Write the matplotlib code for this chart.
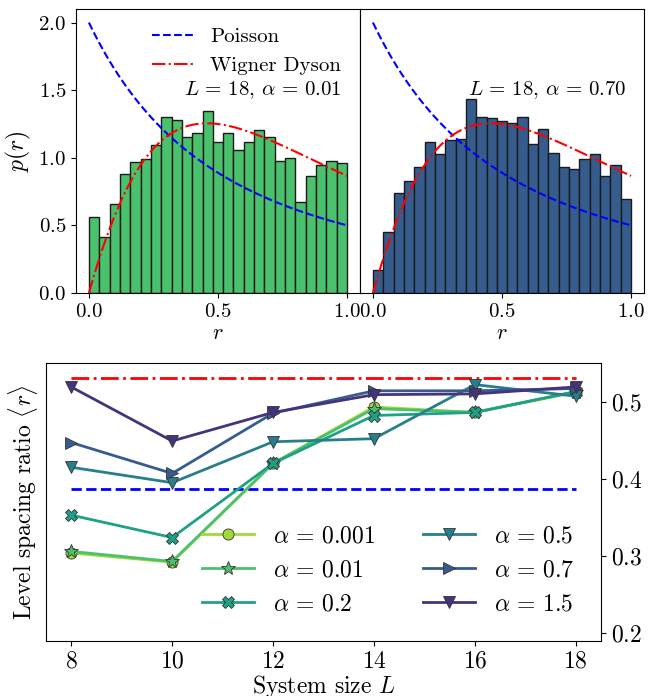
import numpy as np
import matplotlib
matplotlib.use('Agg')
import matplotlib.pyplot as plt

plt.rcParams['font.family'] = 'serif'
plt.rcParams['font.serif'] = ['cmr10']
plt.rcParams['mathtext.fontset'] = 'cm'
plt.rcParams['axes.formatter.use_mathtext'] = True
plt.rcParams['axes.unicode_minus'] = False

# r-distribution histograms at L = 18 (25 bins on [0, 1])
bin_edges = np.linspace(0, 1, 26)
p_r_alpha_001 = [0.563, 0.415, 0.659, 0.879, 0.968, 0.990, 1.096, 1.301, 1.281, 1.156, 1.185, 1.343, 1.114,
                 1.185, 1.057, 1.119, 1.205, 1.156, 0.973, 0.998, 0.674, 0.867, 0.943, 0.973, 0.960]
p_r_alpha_070 = [0.168, 0.449, 0.741, 0.827, 0.931, 1.114, 1.027, 1.133, 1.141, 1.437, 1.304, 1.291, 1.272,
                 1.254, 1.304, 1.104, 1.212, 1.037, 0.931, 0.914, 0.988, 1.027, 0.862, 0.943, 0.694]

# mean level spacing ratio vs system size
system_sizes = [8, 10, 12, 14, 16, 18]
alphas = [0.001, 0.01, 0.2, 0.5, 0.7, 1.5]
r_mean_0001 = [0.304, 0.292, 0.420, 0.493, 0.486, 0.512]
r_mean_001 = [0.306, 0.293, 0.420, 0.491, 0.486, 0.513]
r_mean_02 = [0.353, 0.324, 0.420, 0.482, 0.486, 0.513]
r_mean_05 = [0.415, 0.395, 0.448, 0.452, 0.522, 0.507]
r_mean_07 = [0.447, 0.407, 0.485, 0.514, 0.514, 0.517]
r_mean_15 = [0.519, 0.449, 0.486, 0.509, 0.510, 0.519]
r_means = [r_mean_0001, r_mean_001, r_mean_02, r_mean_05, r_mean_07, r_mean_15]
markers = ['o', '*', 'X', 'v', '>', 'v']
colors = ['#a0da39', '#4ac16d', '#1fa187', '#277f8e', '#365c8d', '#46337e']

r_poisson = 2 * np.log(2) - 1   # <r> Poisson
r_goe = 0.5307                   # <r> GOE


def p_poisson(r):
    return 2 / (1 + r) ** 2


def p_wigner_dyson(r):
    return 27 / 4 * (r + r ** 2) / (1 + r + r ** 2) ** 2.5


W, H = 659, 696
fig = plt.figure(figsize=(W / 100, H / 100), dpi=100)
ax_l = fig.add_axes([76 / W, 1 - 293 / H, 284 / W, 284 / H])
ax_r = fig.add_axes([360 / W, 1 - 293 / H, 284 / W, 284 / H], sharey=ax_l)
ax_b = fig.add_axes([46 / W, 1 - 641 / H, 555 / W, 278 / H])

r = np.linspace(0, 1, 300)
for ax, p_hist, color, label in [(ax_l, p_r_alpha_001, '#4ac16d', r'$L\,=\,18$, $\alpha\,=\,0.01$'),
                                 (ax_r, p_r_alpha_070, '#365c8d', r'$L\,=\,18$, $\alpha\,=\,0.70$')]:
    ax.bar(bin_edges[:-1], p_hist, width=np.diff(bin_edges), align='edge', color=color,
           edgecolor='#1a1a1a', linewidth=1.0)
    ax.plot(r, p_poisson(r), '--', color='b', lw=1.5, label='Poisson')
    ax.plot(r, p_wigner_dyson(r), '-.', color='r', lw=1.5, label='Wigner Dyson')
    ax.text(0.37, 1.5, label, fontsize=15, va='center', ha='left')
    ax.set_xlim(-0.05, 1.05)
    ax.set_xticks([0.0, 0.5, 1.0])
    ax.set_xlabel(r'$r$', fontsize=16, labelpad=2)
    ax.tick_params(labelsize=15)

ax_l.set_ylim(0, 2.1)
ax_l.set_yticks([0.0, 0.5, 1.0, 1.5, 2.0])
ax_l.set_ylabel(r'$p(r)$', fontsize=17)
ax_l.legend(loc='upper right', frameon=False, fontsize=15, handlelength=2.0)
ax_r.tick_params(left=False, labelleft=False)

# <r> vs L
ax_b.plot([system_sizes[0], system_sizes[-1]], [r_goe, r_goe], '-.', color='r', lw=2)
ax_b.plot([system_sizes[0], system_sizes[-1]], [r_poisson, r_poisson], '--', color='b', lw=2)
for alpha, r_mean, marker, color in zip(alphas, r_means, markers, colors):
    ms = 10 if marker == '*' else 8
    ax_b.plot(system_sizes, r_mean, marker=marker, color=color, lw=2, ms=ms,
              markeredgecolor='#333333', markeredgewidth=0.6, label=rf'$\alpha\,=\,{alpha}$')

ax_b.set_xlim(7.5, 18.5)
ax_b.set_ylim(0.19, 0.55)
ax_b.set_xticks(system_sizes)
ax_b.set_yticks([0.2, 0.3, 0.4, 0.5])
ax_b.yaxis.tick_right()
ax_b.tick_params(labelsize=17)
ax_b.set_xlabel(r'System size $L$', fontsize=17, labelpad=0)
ax_b.set_ylabel(r'Level spacing ratio $\langle r\rangle$', fontsize=17)
ax_b.legend(loc='lower right', ncol=2, frameon=False, fontsize=17, handlelength=2.2,
            bbox_to_anchor=(0.99, 0.015))

fig.savefig('out.png', dpi=100)
